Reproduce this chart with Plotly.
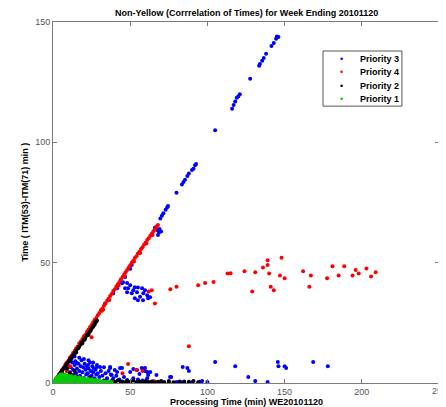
import plotly.graph_objects as go

# Priority 3 (blue)
p3 = [(145,144),(146,143.8),(144.5,143),(143,141.3),(141.5,140),(138,136.8),(136.5,135),(135.5,133.9),(134,132.5),
      (133.5,131.8),(127.7,126.4),(121,120),(120,119),(119,118.5),(118,117),(117,115.5),(116,114),(105,105),(92.7,91),
      (92,90.5),(91,89),(90,88.5),(88,87),(87,86),(85.5,84.5),(84.5,83.5),(83.5,82.5),(80,79),(74.5,73.5),(74,73),
      (73,72),(71.5,70.5),(70.5,69.5),(69.5,68.4),
      (68.7,62.6),(67.5,63.5),(69,64),(70,63),(66,64.5),(68,61.5),
      (51,49),(50,47.5),(46.7,44),(44.7,41.4),(41.5,39.4),(39,37.3),(35.6,34.4),(33.7,33),
      (45.4,41.9),(48,41.5),(50,40.6),(53,39.8),(55,39.7),(57.7,39.4),(52,38.5),(48.6,39.4),(54.4,37.7),(58.5,37.3),
      (61,36.5),(56.4,35.8),(61.6,35.2),(53,35.2),(51,37.3),(59.6,38.5),(62.9,35.6),(55,34.4),(58.3,34.4),(46.7,39.4),(48,37.7),
      (30.5,6.6),(37,6.2),(41.5,4.6),(44.7,6.2),(38,3.3),(50,4.6),(52,5.8),(59.6,6.2),(63,4.6),(69,0.4),
      (15.5,8.3),(22.7,7.5),(28.5,6.6),(37,6.6),(40,5.4),(43.4,6.2),(54.4,5.4),(58.3,5.8),(61,4.6),(56,3.7),(67,3.3),
      (75.8,2.5),(84,6.6),(87,6.2),(88,5),(96.6,0.8),(100,0.4),(105,8.7),(118,7),(126.5,2.5),(131,0.8),(139,0.4),
      (145.6,8.7),(146,7),(150,7),(151,6.2),(168.5,8.7),(178,7),(57.5,6.2),(59.6,5),(61.6,3.3),(61,2),(76.5,2.5),
      (30,0.5),(35,0.8),(40,0.3),(45,0.6),(50,0.4),(55,0.9),(60,0.3),(65,0.7),(70,0.5),(72,0.3),(75,0.8),(80,0.4),(83,0.3),
      (85,0.6),(90,0.3),(95,0.5),
      (6,4),(7,6),(8,2.5),(8.5,8),(9,5),(9.5,3),(10,7),(10.5,9.5),(11,4.5),(11.5,6.5),(12,2),(12.5,8.5),(13,5.5),
      (13.5,3.5),(14,7.5),(14.5,9),(15,4),(15.5,6),(16,2.5),(16.5,8),(17,5),(17.5,3),(18,7),(18.5,9.5),(19,4.5),
      (19.5,6.5),(20,2),(20.5,8),(21,5.5),(21.5,3.5),(22,7),(22.5,4),(23,6),(23.5,2.5),(24,8.5),(24.5,5),(25,3),
      (25.5,7),(26,4.5),(26.5,6),(27,2),(27.5,5.5),(28,3.5),(28.5,7.5),(29,4),(30,2.5),(31,5),(32,3),(33,6.5),(34,4),
      (35,2),(36,5),(37.5,3.5),(39,2),(41,3),(43,1.5),(46,2.5),(48,1.2),(52,2),(55,1.5),(58,1),
      (12,10),(14,11),(17,10.5),(20,10),(23,9.5),(26,8.5)]

# Priority 4 (red)
p4 = [(3,2.5),(4,3.6),(5,4.5),(6,5.6),(7,6.4),(8,7.6),(9,8.5),(10,9.4),(11,10.6),(12,11.3),(13,12.5),(14,13.3),
      (15,14.4),(16,15.2),(17,16.5),(18,17.2),(19,18.3),(20,19.4),(21,20.1),(22,21.3),(23,22.2),(24,23.3),(25,24.1),
      (26,25.2),(27,26.3),(28,27),(29,28.2),(30,29.1),(31,30.2),(32,31),(33,32.1),(34,33),(35,34.2),(36,35),(37,36.1),
      (38,37),(39,38.2),(40,39),(41,40.1),(42,41),(43,42),(44,43.1),(45,44),(46,45),(47,46),(48,47),(49,48),(50,48.9),
      (51,50),(52,50.8),(53,51.9),(54,52.7),(55,53.8),(56,54.5),(57,55.7),(58,56.4),(59,57.5),(60,58.3),(61,59.4),
      (62,60.1),(63,61.2),(64,62),(65,63.1),(66,63.8),(67,65),(68,65.6),
      (8.5,7),(12.5,11),(16.5,15),(22.5,21),(26.5,24.5),(32.5,30.5),(36.5,34.5),(42.5,40.5),(46.5,44.5),(52.5,50.5),
      (56.5,54),(60.5,58),(64.5,61.5),(25,19),(31.7,30),(7,3),(9,5),(11,7),(13,3),(10,2),
      (48.6,7.9),(54,5.4),(58,5),(45,4),(88,15.3),(62,38),(64,38.5),(66,33),(76,39),(80,40),(94,40.6),
      (98.5,41.5),(104,42),(113,45.5),(115,45.6),(124,46.4),(131,46),(129,38),(136,48),(139,49),(139,51),(140,45.5),
      (148,52),(147,44.7),(150,43.5),(141,40),(143,38.5),(162,46.4),(167,44.7),(166,40),(181,48.5),(177.5,43.5),
      (185,44.7),(188.6,48.5),(194,44.7),(198,45.5),(196,47),(203,47.6),(206,44.3),(209,46),
      (40,0.5),(47,0.3),(55,0.4),(62,0.2),(66,0.6)]

# Priority 2 (black)
p2 = [(2,1.8),(3,2.6),(4,3.5),(5,4.4),(6,5.3),(7,6.2),(8,7.1),(9,8),(10,8.8),(11,9.9),(12,10.7),(13,11.6),(14,12.5),
      (15,13.4),(16,14.3),(17,15.2),(18,16.1),(19,17),(20,18),(21,18.8),(22,19.8),(23,20.7),(24,21.5),(25,22.6),
      (26,23.4),(27,24.3),(28,25.5),(28.5,26),
      (10.5,9),(12.5,11),(14.5,12.5),(16.5,14.5),(18.5,16.5),(20.5,18),(22.5,20),(24.5,22),(26.5,24),(27.5,25.5),
      (11,9),(15,12.8),(19,16.5),(23,20),
      (5,2),(6,4),(7,1.5),(8,3),(9,6),(10,2),(11,4),(12,1.5),(13,3),(14,5),(15,1),(16,2.5),(18,1.5),(20,2),(22,1),
      (24,2),(26,1.5),
      (30,0.5),(33,1),(36,0.3),(38,0.8),(40,0.4),(42,1),(44,0.5),(46,0.2),(48,0.8),(50,0.4),(52,1),(54,0.3),(56,0.6),
      (58,0.2),(60,0.8),(62,0.4),(64,0.6),(66,0.2),(68,0.5),(70,0.8),(72,0.3),(75,0.5),(78,0.3),(82,0.6),(85,0.4),
      (88,0.5),(91,0.8),(94,0.3)]

# Priority 1 (green)
p1 = [(0.5,0.3),(1,0.8),(1.5,1.2),(2,0.4),(2,1.6),(2.5,2),(3,0.8),(3,2.5),(3.5,1.5),(4,3),(4,0.5),(4.5,2.2),(5,3.5),
      (5,1),(5.5,2.8),(6,3.6),(6,0.4),(6.5,1.8),(7,3),(7,0.8),(7.5,2.4),(8,3.3),(8,1.2),(9,2.8),(9,0.3),(10,3),(10,1.5),
      (11,2.3),(11,0.6),(12,2.8),(12,1.2),(13,2),(13,0.4),(14,2.5),(14,1),(15,2.2),(15,0.3),(16,1.6),(17,2.3),(17,0.8),
      (18,1.9),(18,0.3),(19,1.3),(20,2),(20,0.6),(21,1.6),(22,1),(22,0.3),(23,1.7),(24,1.2),(24,0.4),(25,1.5),(26,0.8),
      (27,1.2),(27,0.3),(28,1),(29,0.6),(30,0.9),(31,0.4),(32,0.7),(33,0.3),(34,0.5),(35,0.2),(36,0.6),(38,0.4)]

series_names = ["Priority 3", "Priority 4", "Priority 2", "Priority 1"]
series_data = [p3, p4, p2, p1]
series_colors = ["#0000ff", "#ff0000", "#000000", "#00cc00"]

x_ticks = [0, 50, 100, 150, 200, 250]
y_ticks = [0, 50, 100, 150]

fig = go.Figure()
for name, pts, col in zip(series_names, series_data, series_colors):
    fig.add_trace(go.Scatter(x=[p[0] for p in pts], y=[p[1] for p in pts], mode="markers", name=name,
                             showlegend=False, marker=dict(color=col, size=4, line=dict(width=0))))

font = "Liberation Sans, Arial, sans-serif"
tick_color = "#555555"
axis_common = dict(showgrid=False, zeroline=False, showline=True, linecolor="#7a7a7a", linewidth=1,
                   mirror="ticks", ticks="inside", ticklen=4, tickcolor="#7a7a7a",
                   tickfont=dict(family=font, size=9, color=tick_color), automargin=False)
# last x tick label sits at the right border; plotly would drop it, so it is placed as an annotation
fig.update_xaxes(range=[0, 250], tickvals=x_ticks, ticktext=[str(v) for v in x_ticks[:-1]] + [""], **axis_common)
fig.update_yaxes(range=[0, 150], tickvals=y_ticks, **axis_common)

# compact legend, drawn as box + text rows (MATLAB-style tight rows)
leg_x0, leg_x1, leg_top, leg_bot = 0.6995, 0.904, 0.9197, 0.767
row_y = [0.8975, 0.8615, 0.8240, 0.7880]
shapes = [dict(type="rect", xref="paper", yref="paper", x0=leg_x0, x1=leg_x1, y0=leg_bot, y1=leg_top,
               line=dict(color="#555555", width=1), fillcolor="white", layer="above")]
annotations = [
    dict(text="<b>Non-Yellow (Corrrelation of Times) for Week Ending 20101120</b>", x=0.5, y=1, xref="paper",
         yref="paper", xanchor="center", yanchor="bottom", yshift=2, showarrow=False,
         font=dict(family=font, size=9, color="black")),
    dict(text="<b>Processing Time (min) WE20101120</b>", x=0.5, y=0, xref="paper", yref="paper",
         xanchor="center", yanchor="top", yshift=-12, showarrow=False, font=dict(family=font, size=9, color="black")),
    dict(text="<b>Time ( ITM(53)-ITM(71) min )</b>", x=0, y=0.5, xref="paper", yref="paper",
         xanchor="right", yanchor="middle", xshift=-22, textangle=-90, showarrow=False,
         font=dict(family=font, size=9, color="black")),
    dict(text=str(x_ticks[-1]), x=x_ticks[-1], y=0, xref="x", yref="paper", xanchor="center", yanchor="top",
         yshift=-1, showarrow=False, font=dict(family=font, size=9, color=tick_color)),
]
for name, col, ry in zip(series_names, series_colors, row_y):
    annotations.append(dict(text="•", x=0.7487, y=ry, xref="paper", yref="paper", xanchor="center",
                            yanchor="middle", showarrow=False, font=dict(family=font, size=9, color=col)))
    annotations.append(dict(text="<b>" + name + "</b>", x=0.790, y=ry, xref="paper", yref="paper",
                            xanchor="left", yanchor="middle", showarrow=False,
                            font=dict(family=font, size=9, color="black")))

fig.update_layout(
    width=438, height=399, margin=dict(l=45, r=7, t=14, b=24),
    paper_bgcolor="white", plot_bgcolor="white",
    font=dict(family=font, size=9, color="black"),
    showlegend=False, shapes=shapes, annotations=annotations,
)

fig.write_html("out.html")
